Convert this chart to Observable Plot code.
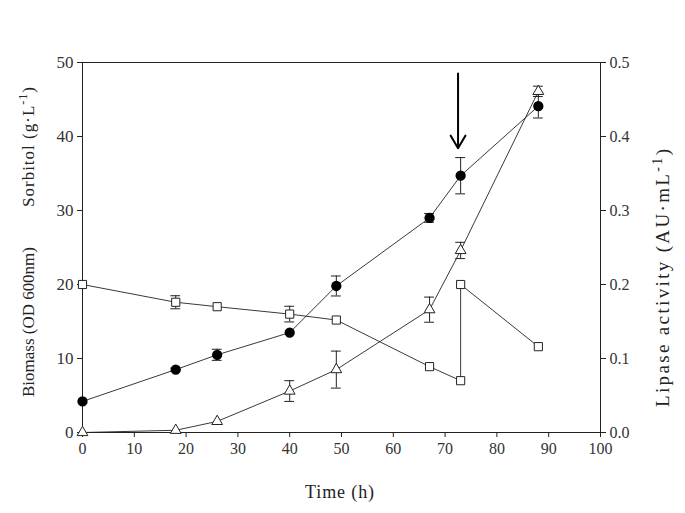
<!DOCTYPE html>
<html><head><meta charset="utf-8">
<script src="https://cdn.jsdelivr.net/npm/d3@7"></script>
<script src="https://cdn.jsdelivr.net/npm/@observablehq/plot@0.6"></script>
<style>
body{margin:0;background:#fff;}
#chart svg{display:block;}
</style>
</head><body><div id="chart"></div>
<script>
// Data
const time = [0, 18, 26, 40, 49, 67, 73, 88];
const biomass = [4.2, 8.5, 10.5, 13.5, 19.8, 29.0, 34.7, 44.1];
const biomassErr = [0, 0.2, 0.75, 0, 1.35, 0.6, 2.45, 1.6];
const sorbitolTime = [0, 18, 26, 40, 49, 67, 73, 73, 88];
const sorbitol = [20.0, 17.6, 17.0, 16.0, 15.2, 8.9, 7.0, 20.0, 11.6];
const sorbitolErr = [0, 0.88, 0, 1.06, 0, 0, 0, 0, 0];
const lipase = [0, 0.003, 0.015, 0.056, 0.085, 0.166, 0.246, 0.461];
const lipaseErr = [0, 0, 0, 0.014, 0.025, 0.017, 0.011, 0.007];
const xTicks = [0, 10, 20, 30, 40, 50, 60, 70, 80, 90, 100];
const leftTicks = [0, 10, 20, 30, 40, 50];
const rightTicks = [0.0, 0.1, 0.2, 0.3, 0.4, 0.5];
const arrowData = [{t: 72.5, from: 48.5, to: 38.4}];

const k = 100; // lipase -> left scale factor (0.5 -> 50)
const bio = time.map((t, i) => ({t, v: biomass[i], e: biomassErr[i]}));
const sor = sorbitolTime.map((t, i) => ({t, v: sorbitol[i], e: sorbitolErr[i]}));
const lip = time.map((t, i) => ({t, v: lipase[i] * k, e: lipaseErr[i] * k}));
const errs = [...bio, ...sor, ...lip].filter(d => d.e > 0);
const cap = 0.95;

const font = "'Liberation Serif', 'Times New Roman', serif";
const plot = Plot.plot({
  width: 685, height: 513,
  marginLeft: 82, marginRight: 85, marginTop: 62, marginBottom: 81,
  style: {fontFamily: font, fontSize: "16px", color: "#222", background: "#fff"},
  x: {domain: [0, 100], label: null},
  y: {domain: [0, 50], label: null},
  marks: [
    Plot.frame({stroke: "#222", strokeWidth: 1}),
    Plot.axisX({ticks: xTicks, tickSize: 5, tickPadding: 5, label: null, fill: "#333", fontSize: 16}),
    Plot.axisY({anchor: "left", ticks: leftTicks, tickSize: 5, tickPadding: 4, label: null, fill: "#333", fontSize: 17}),
    Plot.axisY({anchor: "right", ticks: rightTicks.map(d => d * k), tickFormat: d => (d / k).toFixed(1), tickSize: 5, tickPadding: 4, label: null, fill: "#333", fontSize: 16}),
    Plot.line(sor, {x: "t", y: "v", stroke: "#222", strokeWidth: 0.9}),
    Plot.line(bio, {x: "t", y: "v", stroke: "#222", strokeWidth: 0.9}),
    Plot.line(lip, {x: "t", y: "v", stroke: "#222", strokeWidth: 0.9}),
    Plot.ruleX(errs, {x: "t", y1: d => d.v - d.e, y2: d => d.v + d.e, stroke: "#222", strokeWidth: 1}),
    Plot.ruleY(errs, {y: d => d.v - d.e, x1: d => d.t - cap, x2: d => d.t + cap, stroke: "#222", strokeWidth: 1}),
    Plot.ruleY(errs, {y: d => d.v + d.e, x1: d => d.t - cap, x2: d => d.t + cap, stroke: "#222", strokeWidth: 1}),
    Plot.dot(sor, {x: "t", y: "v", symbol: "square", r: 4.6, fill: "white", stroke: "#222", strokeWidth: 1}),
    Plot.dot(lip, {x: "t", y: "v", symbol: "triangle", r: 4.0, fill: "white", stroke: "#222", strokeWidth: 1}),
    Plot.dot(bio, {x: "t", y: "v", r: 4.4, fill: "black", stroke: "black"}),
    Plot.arrow(arrowData, {x1: "t", x2: "t", y1: "from", y2: "to", stroke: "black", strokeWidth: 2, headLength: 11, headAngle: 60})
  ]
});
document.getElementById("chart").appendChild(plot);

const svg = d3.select(plot);
const lab = svg.append("g").attr("font-family", font).attr("fill", "#222").attr("font-size", 17);
lab.append("text").attr("transform", "translate(34,397) rotate(-90)").attr("text-anchor", "start")
  .attr("textLength", 150).attr("lengthAdjust", "spacing").text("Biomass (OD 600nm)");
const s = lab.append("text").attr("transform", "translate(34,207) rotate(-90)").attr("text-anchor", "start")
  .attr("textLength", 120).attr("lengthAdjust", "spacing");
s.append("tspan").text("Sorbitol (g\u00b7L");
s.append("tspan").attr("dy", -7).attr("font-size", 12).text("-1");
s.append("tspan").attr("dy", 7).text(")");
const r = lab.append("text").attr("transform", "translate(669,407) rotate(-90)").attr("text-anchor", "start")
  .attr("font-size", 19).attr("textLength", 258).attr("lengthAdjust", "spacing");
r.append("tspan").text("Lipase activity (AU\u00b7mL");
r.append("tspan").attr("dy", -7).attr("font-size", 14).text("-1");
r.append("tspan").attr("dy", 7).text(")");
lab.append("text").attr("x", 305).attr("y", 498).attr("text-anchor", "start").attr("font-size", 18)
  .attr("textLength", 69).attr("lengthAdjust", "spacing").text("Time (h)");
</script>
</body></html>
